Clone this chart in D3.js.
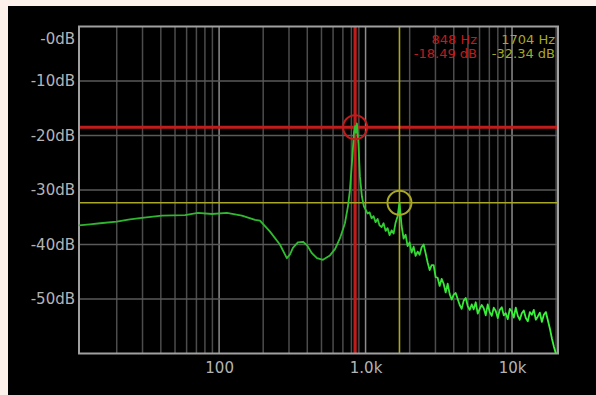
<!DOCTYPE html>
<meta charset="utf-8">
<style>
body { margin: 0; background: #fcf1eb; }
svg { display: block; }
text { font-family: "DejaVu Sans", sans-serif; font-size: 15px; }
</style>
<body>
<script src="https://d3js.org/d3.v7.min.js"></script>
<script>

// spectrum (Hz / dB)
var freqs = [11, 13.1, 15.4, 20, 24.6, 29.7, 40.7, 58.5, 71.7, 89.4, 113, 143, 176, 190, 222, 260, 290, 305, 319, 345, 374, 400, 430, 466, 512, 571, 620, 670, 723, 758, 782, 807, 833, 848, 860, 873, 894, 915, 944, 974,
  1000, 1032, 1065, 1099, 1134, 1170, 1208, 1246, 1286, 1327, 1370, 1414, 1459, 1506, 1554, 1603, 1655, 1704, 1762, 1818, 1876, 1936, 1998, 2062, 2128, 2196, 2266, 2339, 2414, 2491, 2571, 2653, 2738, 2826, 2916, 3009, 3106, 3205, 3308, 3413, 3523, 3635, 3752, 3872, 3996, 4124, 4256, 4392, 4532, 4677, 4827, 4981, 5141, 5305, 5475, 5650, 5831, 6018, 6210, 6409, 6614, 6826, 7044, 7270, 7502, 7742, 7990, 8246, 8510, 8782, 9063, 9353, 9652, 9961, 10280, 10609, 10948, 11299, 11660, 12033, 12418, 12816, 13226, 13649, 14086, 14537, 15002, 15482, 15977, 16488, 17016, 17561, 18123, 18703, 19301, 19919, 20556];
var levels = [-36.5, -36.3, -36.1, -35.8, -35.4, -35.1, -34.7, -34.6, -34.2, -34.4, -34.2, -34.7, -35.5, -35.6, -37.6, -40.0, -42.5, -41.8, -40.6, -39.6, -39.5, -40.2, -41.6, -42.5, -42.8, -42.0, -40.8, -38.8, -36.1, -33.0, -30.0, -25.0, -19.5, -18.3, -19.5, -17.8, -21.5, -27.5, -31.2, -33.0,
  -33.6, -34.3, -34.1, -35.2, -34.8, -35.9, -35.3, -36.5, -36.8, -36.1, -37.5, -37.0, -38.3, -37.4, -38.0, -36.0, -34.8, -32.3, -36.6, -38.9, -38.2, -40.3, -39.6, -41.5, -40.4, -42.1, -41.3, -41.9, -40.5, -40.0,
  -41.6, -43.3, -44.7, -43.8, -43.8, -46.0, -46.1, -47.6, -46.3, -47.2, -48.8, -47.2, -49.1, -50.1, -49.2, -48.9, -50.0, -51.1, -51.8, -50.3,
  -49.8, -51.3, -52.0, -51.0, -51.9, -50.6, -52.7, -51.8, -51.1, -51.7, -53.0, -51.0, -52.4, -53.1, -51.6, -52.2, -53.5, -52.0, -51.5, -53.0,
  -52.6, -53.7, -51.8, -52.3, -53.4, -51.6, -53.1, -53.8, -52.6, -52.1, -53.5, -54.1, -52.4, -52.9, -52.0, -53.8, -53.2, -52.5, -54.2, -52.9,
  -52.4, -53.9, -55.4, -57.2, -58.7, -60.0];

var dbTicks = [0, -10, -20, -30, -40, -50];
var dbLabels = ["-0dB", "-10dB", "-20dB", "-30dB", "-40dB", "-50dB"];
var majorFreqs = [100, 1000, 10000];
var freqLabels = ["100", "1.0k", "10k"];
var minorFreqs = [20, 30, 40, 50, 60, 70, 80, 90, 200, 300, 400, 500, 600, 700, 800, 900,
  2000, 3000, 4000, 5000, 6000, 7000, 8000, 9000, 20000];

// cursors
var cursorFreqs = [848, 1704];
var cursorLevels = [-18.49, -32.34];
var cursorColors = ["#c01c1c", "#a9a824"];

var W = 596, H = 395;
var pLeft = 79, pRight = 558, pTop = 26.5, pBottom = 353.5;

var x = d3.scaleLog().domain([11.05, 20600]).range([pLeft, pRight]);
var y = d3.scaleLinear().domain([0, -60]).range([pTop, pBottom]);

var svg = d3.select("body").append("svg")
    .attr("width", W)
    .attr("height", H);

svg.append("rect")
    .attr("x", 8).attr("y", 6)
    .attr("width", W - 8).attr("height", H - 6)
    .attr("fill", "#000");

// green gets brighter where the trace is noisy
var grad = svg.append("defs").append("linearGradient")
    .attr("id", "trace")
    .attr("gradientUnits", "userSpaceOnUse")
    .attr("x1", pLeft).attr("x2", pRight).attr("y1", 0).attr("y2", 0);
grad.append("stop").attr("offset", 0).attr("stop-color", "#2fb32f");
grad.append("stop").attr("offset", 0.55).attr("stop-color", "#30bd30");
grad.append("stop").attr("offset", 0.75).attr("stop-color", "#36e636");
grad.append("stop").attr("offset", 1).attr("stop-color", "#3cf53c");

// grid
var grid = svg.append("g");
grid.selectAll(".minor")
    .data(minorFreqs)
  .enter().append("line")
    .attr("x1", function(d) { return x(d); })
    .attr("x2", function(d) { return x(d); })
    .attr("y1", pTop).attr("y2", pBottom)
    .attr("stroke", "#4c4c4c")
    .attr("stroke-width", 1.5);
grid.selectAll(".major")
    .data(majorFreqs)
  .enter().append("line")
    .attr("x1", function(d) { return x(d); })
    .attr("x2", function(d) { return x(d); })
    .attr("y1", pTop).attr("y2", pBottom)
    .attr("stroke", "#8c8c8c")
    .attr("stroke-width", 1.5);
grid.selectAll(".hgrid")
    .data(dbTicks.slice(1))
  .enter().append("line")
    .attr("x1", pLeft).attr("x2", pRight)
    .attr("y1", function(d) { return y(d); })
    .attr("y2", function(d) { return y(d); })
    .attr("stroke", "#5a5a5a")
    .attr("stroke-width", 1.5);

// axes (labels only)
var yAxis = svg.append("g")
    .attr("transform", "translate(" + (pLeft - 4) + ",0)")
    .call(d3.axisLeft(y).tickValues(dbTicks).tickSize(0).tickPadding(0)
      .tickFormat(function(d, i) { return dbLabels[i]; }));
yAxis.select(".domain").remove();
yAxis.selectAll("text")
    .attr("fill", "#b4b4b4")
    .style("font-size", "15px")
    .style("font-family", "DejaVu Sans")
    .attr("y", function(d) { return d === 0 ? 12 : 0; });

var xAxis = svg.append("g")
    .attr("transform", "translate(0," + pBottom + ")")
    .call(d3.axisBottom(x).tickValues(majorFreqs).tickSize(0).tickPadding(9)
      .tickFormat(function(d, i) { return freqLabels[i]; }));
xAxis.select(".domain").remove();
xAxis.selectAll("text")
    .attr("fill", "#b4b4b4")
    .style("font-size", "15px")
    .style("font-family", "DejaVu Sans");

// cursor lines
cursorFreqs.forEach(function(f, i) {
  var w = i === 0 ? 3.2 : 1.6;
  svg.append("line")
      .attr("x1", x(f)).attr("x2", x(f))
      .attr("y1", pTop).attr("y2", pBottom)
      .attr("stroke", cursorColors[i]).attr("stroke-width", w);
  svg.append("line")
      .attr("x1", pLeft).attr("x2", pRight)
      .attr("y1", y(cursorLevels[i])).attr("y2", y(cursorLevels[i]))
      .attr("stroke", cursorColors[i]).attr("stroke-width", w);
});

// frame
svg.append("rect")
    .attr("x", pLeft).attr("y", pTop)
    .attr("width", pRight - pLeft).attr("height", pBottom - pTop)
    .attr("fill", "none")
    .attr("stroke", "#a0a0a0")
    .attr("stroke-width", 2);

// spectrum
var line = d3.line()
    .x(function(d, i) { return x(freqs[i]); })
    .y(function(d) { return y(d); });
svg.append("path")
    .datum(levels)
    .attr("fill", "none")
    .attr("stroke", "url(#trace)")
    .attr("stroke-width", 1.8)
    .attr("stroke-linejoin", "round")
    .attr("d", line);

// cursor circles
cursorFreqs.forEach(function(f, i) {
  svg.append("circle")
      .attr("cx", x(f)).attr("cy", y(cursorLevels[i]))
      .attr("r", 12)
      .attr("fill", "none")
      .attr("stroke", cursorColors[i])
      .attr("stroke-width", 2);
});

// readouts
var readX = [477, 555];
cursorFreqs.forEach(function(f, i) {
  svg.append("text")
      .attr("x", readX[i]).attr("y", 44)
      .attr("text-anchor", "end")
      .attr("fill", cursorColors[i])
      .style("font-size", "13px")
      .text(f + " Hz");
  svg.append("text")
      .attr("x", readX[i]).attr("y", 58)
      .attr("text-anchor", "end")
      .attr("fill", cursorColors[i])
      .style("font-size", "13px")
      .text(cursorLevels[i].toFixed(2) + " dB");
});

</script>
</body>
